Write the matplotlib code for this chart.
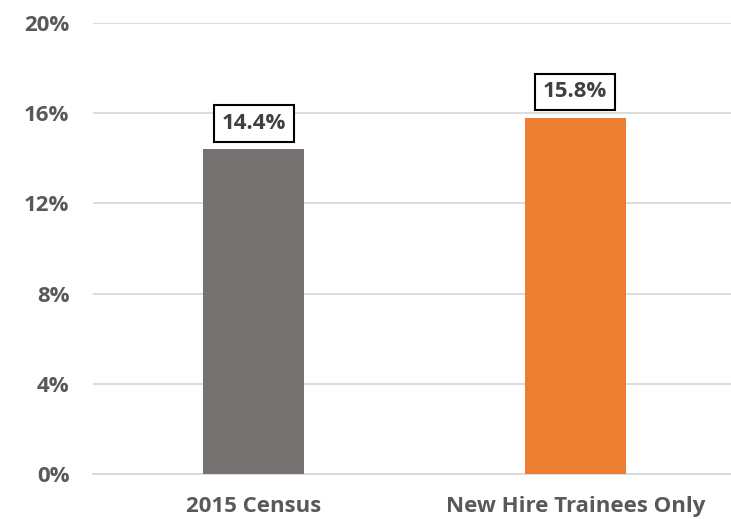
import matplotlib
matplotlib.use("Agg")
import matplotlib.pyplot as plt

categories = ["2015 Census", "New Hire Trainees Only"]
values = [14.4, 15.8]
labels = ["14.4%", "15.8%"]
colors = ["#767171", "#ED7D31"]
yticks = [0, 4, 8, 12, 16, 20]
ytick_labels = ["0%", "4%", "8%", "12%", "16%", "20%"]

plt.rcParams['font.family'] = ['Open Sans', 'DejaVu Sans']

W, H = 731, 519
fig = plt.figure(figsize=(W / 100, H / 100), dpi=100)
left, right = 93, 736
bottom, top = 474, 23
ax = fig.add_axes([left / W, (H - bottom) / H, (right - left) / W, (bottom - top) / H])

x = list(range(len(categories)))
ax.bar(x, values, width=0.314, color=colors, zorder=3)
ax.set_xlim(-0.5, 1.5)
ax.set_ylim(0, 20)
ax.set_yticks(yticks)
ax.set_yticklabels(ytick_labels)
ax.set_xticks(x)
ax.set_xticklabels(categories)
ax.yaxis.grid(True, color="#D9D9D9", linewidth=1.3, zorder=0)
for s in ["top", "right", "left"]:
    ax.spines[s].set_visible(False)
ax.spines["bottom"].set_color("#D9D9D9")
ax.spines["bottom"].set_linewidth(1.3)
ax.tick_params(axis="both", length=0, labelsize=16, labelcolor="#595959")
ax.tick_params(axis="y", pad=17)
ax.tick_params(axis="x", pad=16)
for lab in ax.get_xticklabels() + ax.get_yticklabels():
    lab.set_fontweight("bold")

for xi, v, lab in zip(x, values, labels):
    ax.annotate(lab, (xi, v), xytext=(0, 11), textcoords="offset points",
                ha="center", va="bottom", fontsize=16, fontweight="bold",
                color="#404040", zorder=5,
                bbox=dict(boxstyle="square,pad=0.35", fc="white", ec="black", lw=1.5))

fig.savefig("out.png", dpi=100)
